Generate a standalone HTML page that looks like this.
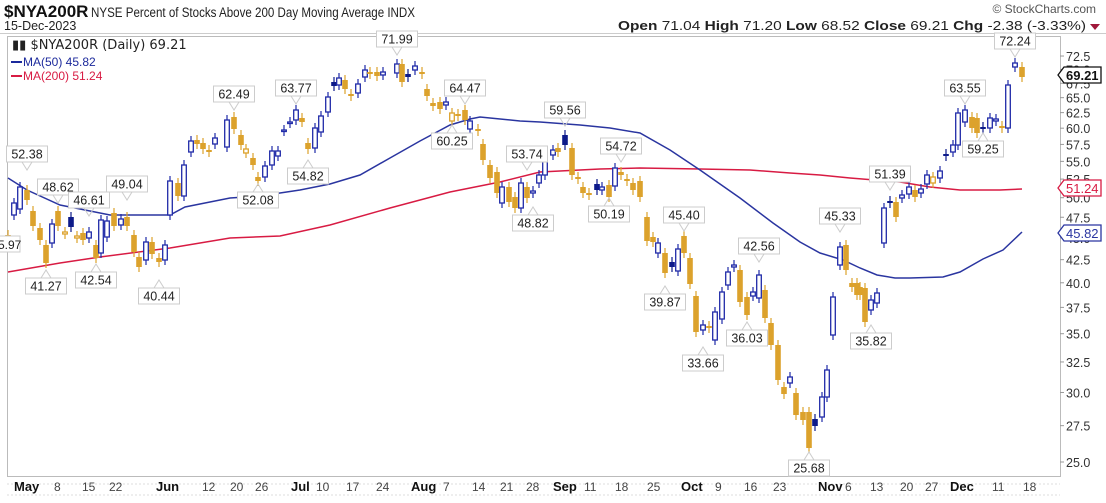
<!DOCTYPE html>
<html><head><meta charset="utf-8"><style>
body{margin:0;background:#fff;width:1106px;height:498px;overflow:hidden;font-family:"Liberation Sans",sans-serif}
</style></head><body>
<svg id="s" width="1106" height="498" xmlns="http://www.w3.org/2000/svg" font-family="Liberation Sans, sans-serif">
<rect width="1106" height="498" fill="#fff"/>
<text x="4" y="17" font-size="17" font-weight="bold" fill="#111">$NYA200R</text>
<text x="91" y="17" font-size="13.5" fill="#222" textLength="324" lengthAdjust="spacingAndGlyphs">NYSE Percent of Stocks Above 200 Day Moving Average INDX</text>
<text x="4" y="30" font-size="12.5" fill="#222">15-Dec-2023</text>
<text x="1096" y="13" font-size="12" fill="#555" text-anchor="end">© StockCharts.com</text>
<text x="618" y="30" font-size="13" fill="#222" textLength="468" lengthAdjust="spacingAndGlyphs"><tspan font-weight="bold">Open</tspan> 71.04  <tspan font-weight="bold">High</tspan> 71.20  <tspan font-weight="bold">Low</tspan> 68.52  <tspan font-weight="bold">Close</tspan> 69.21  <tspan font-weight="bold">Chg</tspan> -2.38 (-3.33%)</text>
<path d="M1090,24 L1100,24 L1095,30Z" fill="#a0183a"/>
<line x1="0" y1="33.5" x2="1106" y2="33.5" stroke="#ccc"/>
<rect x="7.5" y="36.5" width="1053" height="440" fill="none" stroke="#bbb"/>
<g id="ma"></g><g id="c"></g><g id="lab"></g><g id="ax"></g>
<text x="12" y="49" font-size="13" fill="#222" font-family="DejaVu Sans, sans-serif">▮▮ $NYA200R (Daily) 69.21</text>
<line x1="11" y1="62" x2="22" y2="62" stroke="#1c2a9c" stroke-width="2"/><text x="23" y="66" font-size="12" fill="#1c2a9c">MA(50) 45.82</text>
<line x1="11" y1="76" x2="22" y2="76" stroke="#d81b43" stroke-width="2"/><text x="23" y="80" font-size="12" fill="#d81b43">MA(200) 51.24</text>
</svg>
<script>
var NS="http://www.w3.org/2000/svg";
function el(p,t,a,tx){var e=document.createElementNS(NS,t);for(var k in a)e.setAttribute(k,a[k]);if(tx!=null)e.textContent=tx;document.getElementById(p).appendChild(e);return e;}
var Y=function(v){return 462-381.3*Math.log(v/25);};
var ma50=[[8,178],[27,190],[60,205],[110,215],[170,215],[185,207],[230,198],[260,196],[300,190],[330,184],[360,175],[390,158],[420,141],[450,125],[470,119],[480,117],[490,118],[520,121],[540,122],[580,125],[610,128],[640,133],[670,150],[700,170],[740,198],[773,223],[800,242],[820,253],[843,260],[860,268],[877,275],[895,278],[910,278],[943,277],[960,272],[983,259],[1003,250],[1022,232]];
var ma200=[[8,272],[60,263],[100,257],[170,248],[230,238],[280,236],[330,225],[390,208],[450,192],[500,182],[540,172],[600,169],[640,168],[700,169],[750,170],[790,173],[820,175],[850,178],[900,182],[930,187],[960,190],[1000,190],[1022,189]];
function pl(a,c){el("ma","polyline",{points:a.map(function(p){return p.join(",")}).join(" "),fill:"none",stroke:c,"stroke-width":1.5});}
pl(ma200,"#d81b43");pl(ma50,"#2a35a0");
var C=[[8,235,245,"g"],[14,203,215,"b"],[20,187,209,"b"],[27,190,200,"g"],[33,211,226,"g"],[40,228,240,"g"],[46,245,263,"g"],[52,224,243,"b"],[58,211,226,"g"],[65,232,234,"h"],[71,217,227,"n"],[77,236,238,"h"],[83,233,240,"g"],[89,232,238,"b"],[96,245,258,"g"],[101,220,253,"b"],[107,221,237,"b"],[114,213,226,"g"],[121,219,225,"b"],[127,217,226,"g"],[134,235,252,"g"],[139,257,267,"g"],[146,242,260,"b"],[152,242,254,"g"],[159,258,262,"g"],[165,245,260,"b"],[170,181,215,"b"],[178,183,196,"g"],[184,165,196,"b"],[191,141,152,"b"],[197,140,144,"g"],[203,143,149,"g"],[209,150,152,"g"],[215,138,144,"b"],[227,120,147,"b"],[234,117,129,"g"],[241,135,145,"g"],[246,149,153,"h"],[253,158,165,"g"],[258,177,181,"g"],[265,166,177,"b"],[272,151,165,"b"],[278,151,156,"b"],
[284,130,131,"b"],[290,122,123,"b"],[296,110,120,"b"],[302,118,122,"g"],[308,143,149,"g"],[315,128,148,"b"],[321,116,132,"b"],[328,97,112,"b"],[334,82,86,"n"],[339,78,85,"b"],[345,80,89,"g"],[351,94,96,"g"],[358,84,93,"b"],[365,70,77,"b"],[370,72,74,"g"],[377,72,76,"g"],[383,72,75,"b"],[397,64,73,"b"],[402,64,82,"g"],[408,74,77,"n"],[415,66,70,"b"],[422,72,74,"g"],[427,89,96,"g"],[433,103,106,"g"],[440,102,109,"g"],[446,102,105,"b"],[452,113,121,"h"],[458,114,116,"g"],[465,110,120,"g"],[470,121,129,"b"],[478,129,131,"g"],[483,144,160,"g"],[490,165,178,"g"],[497,172,193,"g"],[502,187,203,"b"],[509,187,202,"g"],[515,197,208,"g"],[521,183,208,"b"],[527,187,198,"g"],[533,191,193,"b"],[539,175,183,"b"],[545,153,175,"b"],[553,150,155,"b"],[558,148,152,"g"],[565,135,145,"n"],[572,148,175,"g"],[578,177,179,"g"],[583,187,193,"g"],[589,193,195,"g"],[597,184,190,"n"],[602,187,190,"b"],[609,185,197,"g"],[615,168,186,"b"],[621,172,175,"g"],[627,179,181,"g"],[633,183,190,"g"],[640,181,197,"g"],[647,217,241,"g"],[653,237,242,"g"],[658,243,253,"b"],[665,253,273,"g"],[672,262,267,"n"],[678,249,271,"b"],[684,236,253,"g"],[690,258,284,"g"],[696,296,332,"g"],[703,325,330,"b"],[709,326,328,"g"],[715,312,340,"b"],[722,292,319,"b"],[728,272,285,"b"],[734,265,267,"b"],[740,270,302,"g"],[747,297,315,"g"],[753,292,296,"b"],[759,275,298,"b"],[765,290,318,"g"],[771,323,345,"g"],[778,345,380,"g"],[784,387,394,"g"],[790,377,383,"b"],[796,393,415,"g"],[803,412,420,"g"],[809,412,448,"g"],[815,419,426,"n"],[822,397,417,"b"],[827,370,397,"b"],[833,297,335,"b"],[840,247,265,"b"],[846,245,270,"g"],[852,283,287,"g"],[857,283,295,"g"],[860,287,295,"g"],[865,288,322,"g"],[871,300,310,"b"],[877,293,303,"b"],[884,208,243,"b"],[890,201,203,"n"],[896,202,217,"g"],[902,195,198,"b"],[909,187,194,"b"],[915,190,197,"g"],[921,189,193,"b"],[927,175,184,"b"],[933,177,183,"h"],[940,171,178,"b"],[946,154,156,"n"],[953,145,152,"b"],[958,113,145,"b"],[965,110,122,"b"],[972,117,128,"g"],[977,118,133,"g"],[983,127,129,"n"],[990,118,128,"b"],[996,119,121,"b"],[1002,126,128,"g"],[1008,85,128,"b"],[1015,63,67,"b"],[1022,67,77,"g"]];
var GOLD="#dca22c",BLUE="#1f2aa8",NAVY="#0d1a8a";
C.forEach(function(c){var x=c[0],t=c[1],b=c[2],k=c[3];var col=(k=="g"||k=="h")?GOLD:(k=="n"?NAVY:BLUE);
 el("c","line",{x1:x,y1:t-5,x2:x,y2:b+5,stroke:col,"stroke-width":1.2});
 var h=Math.max(b-t,1.5);
 if(k=="g"||k=="n") el("c","rect",{x:x-2.8,y:t,width:5.6,height:h,fill:col});
 else el("c","rect",{x:x-2.3,y:t,width:4.6,height:h,fill:"#fff",stroke:col,"stroke-width":1.3});
});
var L=[["52.38",27,170,1],["48.62",58,203,1],["46.61",89,216,1],["49.04",127,200,1],["5.97",0,244,0.5],["41.27",46,270,0],["42.54",96,264,0],["40.44",159,280,0],["62.49",234,110,1],["52.08",258,184,0],["63.77",296,104,1],["54.82",308,160,0],["71.99",397,55,1],["64.47",465,104,1],["60.25",452,125,0],["53.74",527,170,1],["48.82",533,207,0],["59.56",565,126,1],["54.72",621,162,1],["50.19",609,198,0],["45.40",684,231,1],["39.87",665,286,0],["33.66",703,347,0],["42.56",759,262,1],["36.03",747,322,0],["25.68",809,452,0],["45.33",840,232,1],["35.82",871,325,0],["51.39",890,190,1],["63.55",965,104,1],["59.25",983,133,0],["72.24",1015,57,1]];
L.forEach(function(l){var t=l[0],x=l[1],y=l[2],d=l[3],w=t.length*7+6,by;
 if(d==0.5){el("lab","rect",{x:-2,y:y-8,width:22,height:16,fill:"#fff",stroke:"#ccc"});el("lab","text",{x:-2,y:y+5,"font-size":12,fill:"#222"},t);return;}
 if(d==1){by=y-24;el("lab","path",{d:"M"+(x-5)+","+(y-8)+" L"+x+","+y+" L"+(x+5)+","+(y-8),fill:"none",stroke:"#ccc"});}
 else{by=y+8;el("lab","path",{d:"M"+(x-5)+","+(y+8)+" L"+x+","+y+" L"+(x+5)+","+(y+8),fill:"none",stroke:"#ccc"});}
 el("lab","rect",{x:x-w/2,y:by,width:w,height:16,fill:"#fff",stroke:"#ccc"});
 el("lab","text",{x:x,y:by+12.5,"font-size":12.5,fill:"#222","text-anchor":"middle"},t);
});
for(var v=25;v<=72.5;v+=2.5){var y=Y(v);el("ax","line",{x1:1060,y1:y,x2:1064,y2:y,stroke:"#999"});
 el("ax","text",{x:1066,y:y+5,"font-size":12.5,fill:"#333"},v.toFixed(1));}
function tag(v,y,c,bold){el("ax","path",{d:"M1058,"+y+" L1064,"+(y-8)+" L1101,"+(y-8)+" L1101,"+(y+8)+" L1064,"+(y+8)+"Z",fill:"#fff",stroke:c,"stroke-width":1.3});
 el("ax","text",{x:1066,y:y+5,"font-size":13,fill:c,"font-weight":bold?"bold":"normal"},v);}
tag("69.21",75,"#111",1);tag("51.24",188,"#d81b43",0);tag("45.82",233,"#2a35a0",0);
el("ax","line",{x1:7,y1:484,x2:1060,y2:484,stroke:"#ddd","stroke-dasharray":"2,2"});
el("ax","line",{x1:7,y1:495,x2:1060,y2:495,stroke:"#ddd","stroke-dasharray":"2,2"});
var X=[["May",14,1],["8",54],["15",82],["22",109],["Jun",156,1],["12",202],["20",230],["26",255],["Jul",291,1],["10",316],["17",346],["24",376],["Aug",411,1],["7",443],["14",472],["21",500],["28",526],["Sep",553,1],["11",584],["18",615],["25",647],["Oct",681,1],["9",715],["16",744],["23",773],["Nov",818,1],["6",845],["13",870],["20",900],["27",925],["Dec",950,1],["11",992],["18",1023]];
X.forEach(function(a){el("ax","text",{x:a[1],y:491,"font-size":a[2]?13:12,"font-weight":a[2]?"bold":"normal",fill:a[2]?"#111":"#444"},a[0]);});
</script>
</body></html>
